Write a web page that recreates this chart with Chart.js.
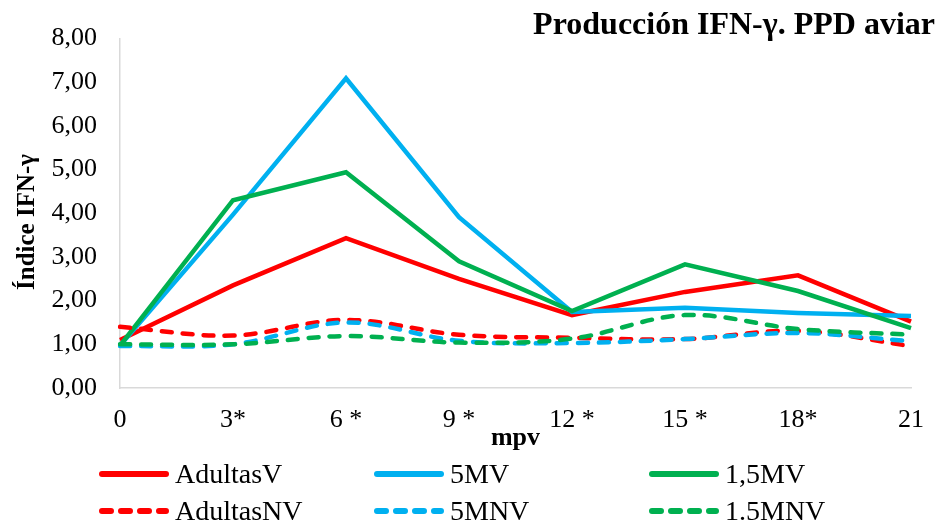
<!DOCTYPE html>
<html>
<head>
<meta charset="utf-8">
<script src="https://cdn.jsdelivr.net/npm/chart.js@4/dist/chart.umd.min.js"></script>
<style>
  html, body { margin: 0; padding: 0; background: #fff; }
</style>
</head>
<body>
<canvas id="ifnChart" width="941" height="522"></canvas>
<script>
  const months = ["0", "3*", "6 *", "9 *", "12 *", "15 *", "18*", "21"];

  const adultasV = [1.10, 2.35, 3.43, 2.50, 1.67, 2.20, 2.58, 1.52];
  const v5M = [0.97, 3.97, 7.09, 3.91, 1.74, 1.84, 1.72, 1.65];
  const v15M = [0.97, 4.30, 4.94, 2.90, 1.76, 2.83, 2.22, 1.37];
  const adultasNV = [1.40, 1.20, 1.56, 1.22, 1.15, 1.12, 1.31, 0.96];
  const nv5M = [0.96, 1.00, 1.50, 1.08, 1.03, 1.12, 1.26, 1.07];
  const nv15M = [1.00, 1.00, 1.19, 1.04, 1.13, 1.67, 1.35, 1.22];

  const RED = "#FF0000";
  const BLUE = "#00B0F0";
  const GREEN = "#00B050";
  const SERIF = "'Liberation Serif', 'Times New Roman', serif";

  function solid(label, data, color, i) {
    return {
      label: label, data: data, borderColor: color, backgroundColor: color,
      borderWidth: 4.5, pointRadius: 0, tension: 0, order: 6 - i,
      borderJoinStyle: "miter"
    };
  }

  function dashed(label, data, color, i) {
    return {
      label: label, data: data, borderColor: color, backgroundColor: color,
      borderWidth: 4.5, pointRadius: 0, tension: 0.35, order: 6 - i,
      borderDash: [10, 11], borderCapStyle: "round"
    };
  }

  // title top right, rotated y title and the 3-column legend under the axis
  const decorations = {
    id: "decorations",
    afterDraw(chart) {
      const c = chart.ctx;
      c.save();
      c.fillStyle = "#000";
      c.font = "bold 32px " + SERIF;
      c.textAlign = "right";
      c.textBaseline = "alphabetic";
      c.fillText("Producción IFN-γ. PPD aviar", 935, 34);

      c.save();
      c.translate(28, 222);
      c.rotate(-Math.PI / 2);
      c.textAlign = "center";
      c.textBaseline = "middle";
      c.font = "bold 25px " + SERIF;
      c.fillText("Índice IFN-γ", 0, 0);
      c.restore();

      c.font = "28px " + SERIF;
      c.textAlign = "left";
      c.textBaseline = "middle";
      chart.data.datasets.forEach((ds, i) => {
        const col = i % 3;
        const row = Math.floor(i / 3);
        const x = 99 + col * 275;
        const y = 474 + row * 37;
        c.strokeStyle = ds.borderColor;
        c.lineWidth = 6;
        c.lineCap = "round";
        c.setLineDash(ds.borderDash ? [9, 10] : []);
        c.beginPath();
        c.moveTo(x + 3, y);
        c.lineTo(x + 67, y);
        c.stroke();
        c.fillText(ds.label, x + 76, y + 2);
      });
      c.restore();
    }
  };

  new Chart(document.getElementById("ifnChart"), {
    type: "line",
    data: {
      labels: months,
      datasets: [
        solid("AdultasV", adultasV, RED, 0),
        solid("5MV", v5M, BLUE, 1),
        solid("1,5MV", v15M, GREEN, 2),
        dashed("AdultasNV", adultasNV, RED, 3),
        dashed("5MNV", nv5M, BLUE, 4),
        dashed("1.5MNV", nv15M, GREEN, 5)
      ]
    },
    options: {
      responsive: false,
      animation: false,
      layout: { padding: { left: 0, top: 38, right: 29, bottom: 67 } },
      plugins: {
        legend: { display: false },
        tooltip: { enabled: false }
      },
      scales: {
        x: {
          grid: { display: false, drawTicks: false },
          border: { display: true, color: "#D9D9D9", width: 1.5 },
          ticks: {
            color: "#000", padding: 17, maxRotation: 0, autoSkip: false,
            font: { family: SERIF, size: 26 }
          },
          title: {
            display: true, text: "mpv", color: "#000",
            font: { family: SERIF, size: 26, weight: "bold" },
            padding: { top: 0, bottom: 1 }
          },
          afterFit(scale) { scale.height = 67; }
        },
        y: {
          min: 0, max: 8,
          grid: { display: false, drawTicks: false },
          border: { display: true, color: "#D9D9D9", width: 1.5 },
          ticks: {
            stepSize: 1, color: "#000", padding: 23,
            font: { family: SERIF, size: 26 },
            callback: v => v.toFixed(2).replace(".", ",")
          },
          afterFit(scale) { scale.width = 120; }
        }
      }
    },
    plugins: [decorations]
  });
</script>
</body>
</html>
